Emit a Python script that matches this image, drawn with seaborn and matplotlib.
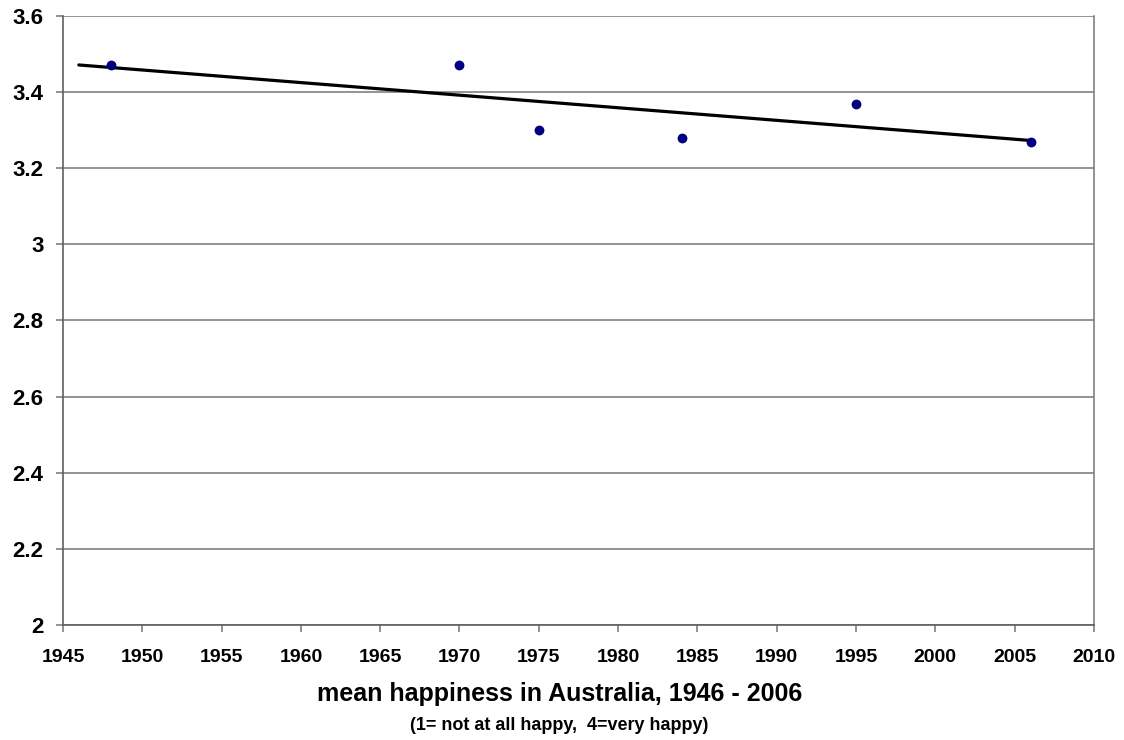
"""
Mean happiness in Australia, 1946 - 2006, with linear trendline.
"""

import numpy as np
import pandas as pd
import matplotlib
matplotlib.use("Agg")
import matplotlib.pyplot as plt
import seaborn as sns
from matplotlib.ticker import FuncFormatter

years = [1948, 1970, 1975, 1984, 1995, 2006]
happiness = [3.47, 3.47, 3.30, 3.28, 3.37, 3.27]
trend_span = [1946, 2006]

x_ticks = list(range(1945, 2011, 5))
y_ticks = [2.0, 2.2, 2.4, 2.6, 2.8, 3.0, 3.2, 3.4, 3.6]

df = pd.DataFrame({"year": years, "happiness": happiness})

# linear fit like an Excel trendline
slope, intercept = np.polyfit(df["year"], df["happiness"], 1)
trend = pd.DataFrame({"year": trend_span})
trend["happiness"] = slope * trend["year"] + intercept

sns.set_style("white")
plt.rcParams["font.family"] = ["Liberation Sans", "DejaVu Sans"]
plt.rcParams["font.weight"] = "bold"
plt.rcParams["text.color"] = "black"
plt.rcParams["xtick.color"] = "black"
plt.rcParams["ytick.color"] = "black"

fig = plt.figure(figsize=(11.24, 7.4), dpi=100)
ax = fig.add_axes([0.056, 0.1554, 0.9173, 0.823])

sns.lineplot(data=trend, x="year", y="happiness", color="black", linewidth=2.3, ax=ax, zorder=3)
sns.scatterplot(data=df, x="year", y="happiness", color="#000080", s=50, edgecolor="#000080",
                linewidth=0, ax=ax, zorder=4)

ax.set_xlim(1945, 2010)
ax.set_ylim(2, 3.6)
ax.set_xticks(x_ticks)
ax.set_yticks(y_ticks)
ax.yaxis.set_major_formatter(FuncFormatter(lambda v, p: f"{v:g}"))

ax.grid(axis="y", color="#808080", linewidth=1.2)
ax.set_axisbelow(True)

ax.spines["top"].set_visible(False)
ax.spines["left"].set_color("#606060")
ax.spines["bottom"].set_color("#606060")
ax.spines["right"].set_color("#808080")
for sp in ax.spines.values():
    sp.set_linewidth(1.2)

ax.tick_params(axis="y", direction="out", length=5, width=1.2, color="#808080",
               labelcolor="black", labelsize=16, pad=9)
ax.tick_params(axis="x", direction="out", length=5, width=1.2, color="#808080",
               labelcolor="black", labelsize=14, pad=12)
ax.tick_params(left=True, bottom=True)
for lbl in ax.get_xticklabels() + ax.get_yticklabels():
    lbl.set_fontweight("bold")

ax.set_xlabel("")
ax.set_ylabel("")

fig.text(0.4975, 0.062, "mean happiness in Australia, 1946 - 2006", ha="center", va="center",
         fontsize=18, fontweight="bold", color="black")
fig.text(0.4975, 0.02, "(1= not at all happy,  4=very happy)", ha="center", va="center",
         fontsize=13, fontweight="bold", color="black")

fig.savefig("out.png", dpi=100)
